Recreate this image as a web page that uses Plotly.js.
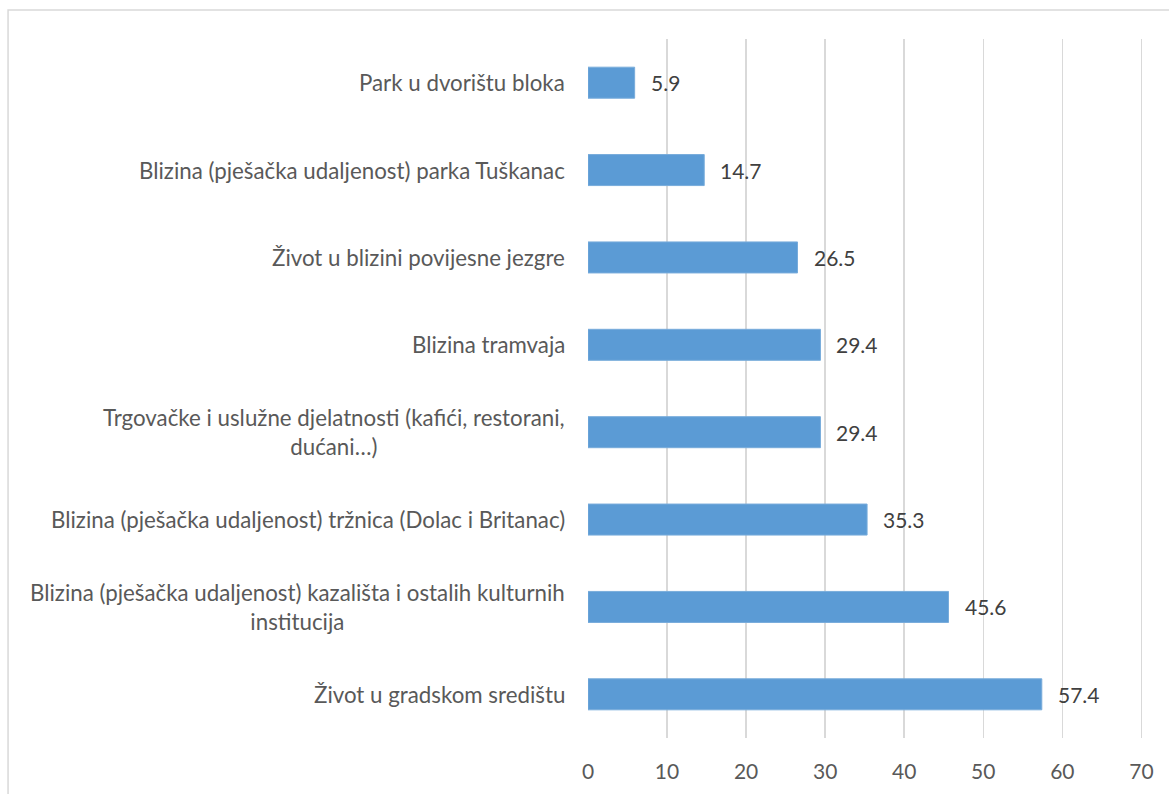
<!DOCTYPE html>
<html>
<head>
<meta charset="utf-8">
<script src="https://cdn.plot.ly/plotly-3.0.1.min.js"></script>
<style>html,body{margin:0;padding:0;background:#fff;}#chart{width:1169px;height:794px;}</style>
</head>
<body>
<div id="chart"></div>
<script>
const categories = [
  "Park u dvorištu bloka",
  "Blizina (pješačka udaljenost) parka Tuškanac",
  "Život u blizini povijesne jezgre",
  "Blizina tramvaja",
  "Trgovačke i uslužne djelatnosti (kafići, restorani,<br>dućani…)",
  "Blizina (pješačka udaljenost) tržnica (Dolac i Britanac)",
  "Blizina (pješačka udaljenost) kazališta i ostalih kulturnih<br>institucija",
  "Život u gradskom središtu"
];
const values = [5.9, 14.7, 26.5, 29.4, 29.4, 35.3, 45.6, 57.4];
const xTicks = [0, 10, 20, 30, 40, 50, 60, 70];

const FONT = "Lato, sans-serif";
const xMax = 70.2;
const plotL = 588, plotR = 588 + 553 * xMax / 70, plotT = 39, plotB = 738, W = 1169, H = 794;
const pw = plotR - plotL, ph = plotB - plotT;
const px = v => (v - plotL) / pw;
const py = v => (plotB - v) / ph;

const trace = {
  type: 'bar',
  orientation: 'h',
  y: categories,
  x: values,
  marker: {color: '#5B9BD5', line: {color: '#78ACDB', width: 1}},
  width: 0.355,
  hoverinfo: 'x+y'
};

const annotations = [];
categories.forEach((c, i) => {
  annotations.push({
    x: values[i], y: c, xref: 'x', yref: 'y',
    text: values[i].toFixed(1), showarrow: false,
    xanchor: 'left', yanchor: 'middle', xshift: 14,
    font: {family: FONT, size: 21, color: '#404040'}
  });
  annotations.push({
    x: px(567), y: c, xref: 'paper', yref: 'y',
    text: c, showarrow: false, align: 'center',
    xanchor: 'right', yanchor: 'middle',
    font: {family: FONT, size: 22.3, color: '#595959'}
  });
});

const layout = {
  width: W, height: H,
  margin: {l: plotL, r: W - plotR, t: plotT, b: H - plotB, pad: 0},
  paper_bgcolor: '#ffffff', plot_bgcolor: '#ffffff',
  showlegend: false,
  bargap: 0.645,
  xaxis: {
    range: [0, xMax], tickvals: xTicks, ticktext: xTicks.map(String),
    showgrid: true, gridcolor: '#D9D9D9', gridwidth: 1.5,
    zeroline: false, showline: false,
    ticks: 'outside', ticklen: 15, tickcolor: 'rgba(0,0,0,0)',
    tickfont: {family: FONT, size: 21, color: '#595959'},
    fixedrange: true
  },
  yaxis: {
    type: 'category', categoryorder: 'array', categoryarray: categories,
    autorange: 'reversed',
    showticklabels: false, showgrid: false, zeroline: false, showline: false,
    fixedrange: true
  },
  annotations: annotations,
  shapes: [{
    type: 'rect', xref: 'paper', yref: 'paper',
    x0: px(8.5), x1: px(1180), y0: py(10), y1: py(800),
    line: {color: '#D9D9D9', width: 1.5}, fillcolor: 'rgba(0,0,0,0)', layer: 'below'
  }]
};

Plotly.newPlot('chart', [trace], layout, {displayModeBar: false, staticPlot: true});
</script>
</body>
</html>
